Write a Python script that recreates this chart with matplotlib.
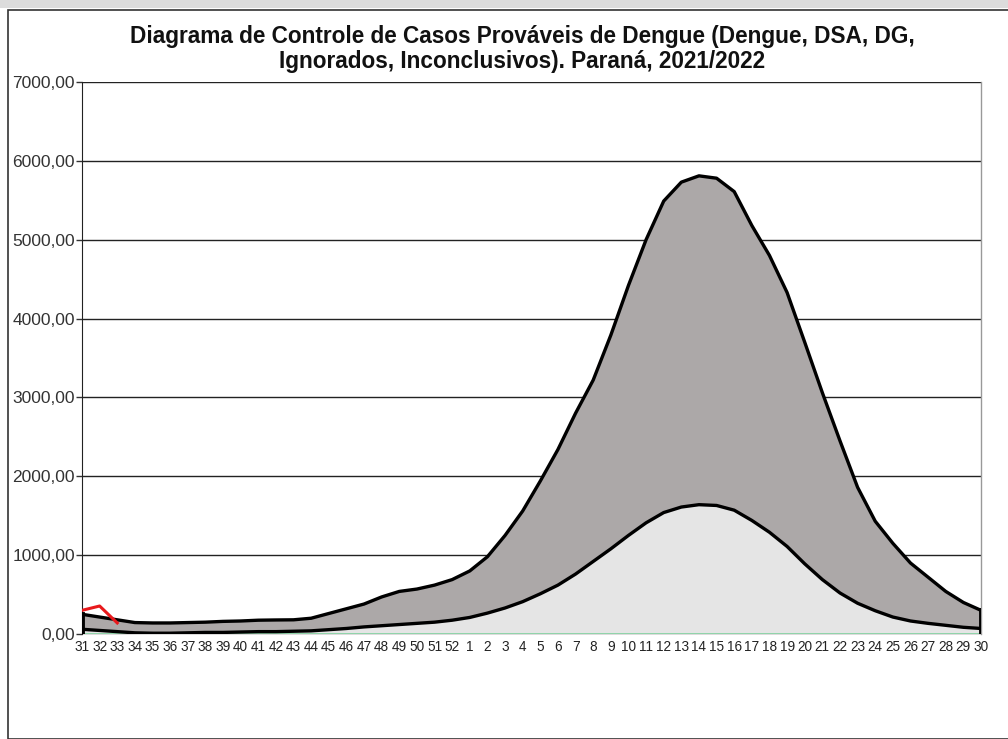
import matplotlib
matplotlib.use("Agg")
import matplotlib.pyplot as plt
from matplotlib.patches import Rectangle
from matplotlib.ticker import FuncFormatter

weeks = ["31", "32", "33", "34", "35", "36", "37", "38", "39", "40", "41", "42", "43",
         "44", "45", "46", "47", "48", "49", "50", "51", "52",
         "1", "2", "3", "4", "5", "6", "7", "8", "9", "10", "11", "12", "13", "14",
         "15", "16", "17", "18", "19", "20", "21", "22", "23", "24", "25", "26", "27",
         "28", "29", "30"]

upper_limit = [250, 215, 180, 145, 140, 140, 145, 150, 160, 165, 175, 178, 180,
               200, 260, 320, 380, 470, 540, 570, 620, 690,
               800, 980, 1250, 1560, 1940, 2340, 2800, 3220, 3790, 4420, 5000, 5490,
               5730, 5810, 5780, 5610, 5180, 4800, 4330, 3700, 3060, 2450, 1860, 1430,
               1150, 900, 720, 540, 400, 300]

lower_limit = [60, 45, 30, 15, 10, 10, 15, 20, 20, 25, 30, 30, 35,
               40, 55, 70, 90, 105, 120, 135, 150, 175,
               210, 265, 330, 410, 510, 620, 760, 920, 1080, 1250, 1410, 1540,
               1610, 1640, 1630, 1570, 1440, 1290, 1110, 890, 690, 520, 390, 295,
               215, 165, 135, 110, 85, 70]

current_weeks = ["31", "32", "33"]
current_cases = [300, 355, 140]

baseline = [0] * len(weeks)

title = ("Diagrama de Controle de Casos Prováveis de Dengue (Dengue, DSA, DG,\n"
         "Ignorados, Inconclusivos). Paraná, 2021/2022")

plt.rcParams['font.family'] = ['Liberation Sans', 'DejaVu Sans']

W, H = 1008, 739
fig = plt.figure(figsize=(W / 100, H / 100), dpi=100)
fig.patch.set_facecolor("white")

# outer frame and top grey strip
fig.add_artist(Rectangle((0, 1 - 8 / H), 1, 8 / H, transform=fig.transFigure,
                         facecolor="#dcdcdc", edgecolor="none"))
fig.add_artist(Rectangle((8 / W, 0), 1.2, (H - 10) / H, transform=fig.transFigure,
                         facecolor="none", edgecolor="#333333", linewidth=1.2))

left, right, top, bottom = 82, 981, 82, 634
ax = fig.add_axes([left / W, 1 - bottom / H, (right - left) / W, (bottom - top) / H])

x = list(range(len(weeks)))
ax.fill_between(x, baseline, upper_limit, color="#aca8a8", linewidth=0, zorder=1)
ax.fill_between(x, baseline, lower_limit, color="#e5e5e5", linewidth=0, zorder=2)
ax.plot(x, upper_limit, color="black", linewidth=2.4, zorder=4, solid_joinstyle="round")
ax.plot(x, lower_limit, color="black", linewidth=2.4, zorder=4, solid_joinstyle="round")
ax.plot([x[0], x[0]], [0, upper_limit[0]], color="black", linewidth=3.5, zorder=4)
ax.plot([x[-1], x[-1]], [0, upper_limit[-1]], color="black", linewidth=3.5, zorder=4)
ax.plot(x, baseline, color="#86d3a3", linewidth=2.0, zorder=3)
cx = [weeks.index(w) for w in current_weeks]
ax.plot(cx, current_cases, color="#e8191c", linewidth=2.2, zorder=5)

ax.set_xlim(0, len(weeks) - 1)
ax.set_ylim(0, 7000)
ax.set_yticks(range(0, 7001, 1000))
ax.yaxis.set_major_formatter(FuncFormatter(lambda v, p: f"{int(v)},00"))
ax.set_xticks(x)
ax.set_xticklabels(weeks)
ax.tick_params(axis="x", length=0, pad=4, labelsize=9.8, colors="#222222")
ax.tick_params(axis="y", length=4, width=1, pad=1, labelsize=12.5, colors="#333333")
ax.grid(axis="y", color="#222222", linewidth=1.0, zorder=0)
ax.set_axisbelow(True)
for s in ["top", "bottom"]:
    ax.spines[s].set_visible(False)
ax.spines["left"].set_color("#222222")
ax.spines["right"].set_color("#999999")
ax.spines["right"].set_linewidth(1.0)

fig.text(0.518, 1 - 49 / H, title, ha="center", va="center", fontsize=16.3,
         fontweight="bold", linespacing=1.08, color="#111111")

fig.savefig("out.png", dpi=100)
